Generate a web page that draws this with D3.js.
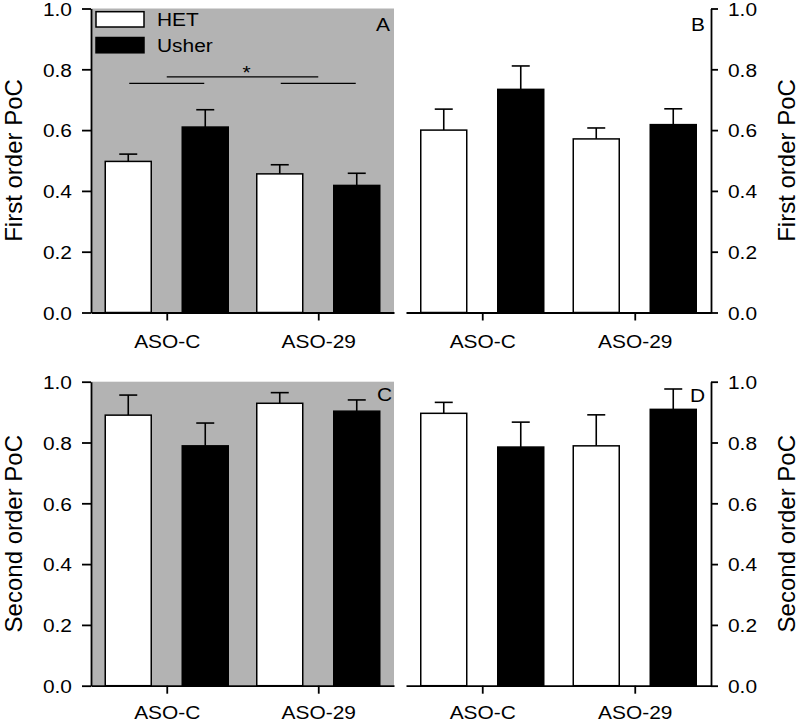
<!DOCTYPE html>
<html><head><meta charset="utf-8">
<script src="https://cdn.jsdelivr.net/npm/d3@7"></script>
<style>
body{margin:0;background:#fff;}
svg text{font-family:"Liberation Sans",Arial,sans-serif;fill:#000;}
</style></head>
<body><svg id="chart" width="800" height="723"></svg>
<script>
// ---- data ----
const categories = ["ASO-C", "ASO-29"];
const groups = ["HET", "Usher"];
const yTicks = [0, 0.2, 0.4, 0.6, 0.8, 1.0];

const hetA = [0.497, 0.456], hetAErr = [0.024, 0.030];
const usherA = [0.610, 0.418], usherAErr = [0.057, 0.040];
const hetB = [0.600, 0.571], hetBErr = [0.069, 0.036];
const usherB = [0.734, 0.618], usherBErr = [0.077, 0.052];
const hetC = [0.890, 0.929], hetCErr = [0.066, 0.035];
const usherC = [0.789, 0.903], usherCErr = [0.075, 0.037];
const hetD = [0.896, 0.789], hetDErr = [0.036, 0.102];
const usherD = [0.785, 0.909], usherDErr = [0.082, 0.067];

const sigLow = 0.754, sigHigh = 0.775, sigStar = "*";
const titles = ["First order PoC", "Second order PoC"];
const panelLetters = ["A", "B", "C", "D"];

// ---- layout ----
const svg = d3.select("#chart");
const SX = 1.1; // horizontal stretch of text in reference
const FS = 19, TFS = 24;

const panels = [
  {letter:"A", het:hetA, hetErr:hetAErr, us:usherA, usErr:usherAErr, x0:91, x1:394, y0:312.5, y1:8.5, side:"left", grey:true, title:titles[0], letterX:390, letterY:31, labY:35.5},
  {letter:"B", het:hetB, hetErr:hetBErr, us:usherB, usErr:usherBErr, x0:406, x1:711, y0:312.5, y1:8.5, side:"right", grey:false, title:titles[0], letterX:705, letterY:31, labY:35.5},
  {letter:"C", het:hetC, hetErr:hetCErr, us:usherC, usErr:usherCErr, x0:91, x1:394, y0:685.7, y1:381.7, side:"left", grey:true, title:titles[1], letterX:392, letterY:401, labY:33.5},
  {letter:"D", het:hetD, hetErr:hetDErr, us:usherD, usErr:usherDErr, x0:406, x1:711, y0:685.7, y1:381.7, side:"right", grey:false, title:titles[1], letterX:705, letterY:402, labY:33.5}
];

panels.forEach(p => {
  const g = svg.append("g");
  const x = d3.scalePoint().domain(categories).range([p.x0, p.x1]).padding(0.5);
  const y = d3.scaleLinear().domain([0, 1]).range([p.y0, p.y1]);
  const inner = d3.scaleBand().domain(groups).range([-61.5, 61.5]).paddingInner(0.4026).paddingOuter(0);

  if (p.grey) {
    g.append("rect").attr("x", p.x0).attr("y", y(1)).attr("width", p.x1 - p.x0).attr("height", y(0) - y(1)).attr("fill", "#b3b3b3");
  }

  // bars
  const rows = [];
  categories.forEach((c, i) => {
    rows.push({c, grp:"HET", v:p.het[i], e:p.hetErr[i]});
    rows.push({c, grp:"Usher", v:p.us[i], e:p.usErr[i]});
  });
  const bw = inner.bandwidth();
  rows.forEach(r => {
    const bx = x(r.c) + inner(r.grp);
    const cx = bx + bw / 2;
    g.append("line").attr("x1", cx).attr("x2", cx).attr("y1", y(r.v)).attr("y2", y(r.v + r.e)).attr("stroke", "#000").attr("stroke-width", 1.6);
    g.append("line").attr("x1", cx - 9).attr("x2", cx + 9).attr("y1", y(r.v + r.e)).attr("y2", y(r.v + r.e)).attr("stroke", "#000").attr("stroke-width", 1.6);
    g.append("rect").attr("x", bx).attr("y", y(r.v)).attr("width", bw).attr("height", y(0) - y(r.v))
      .attr("fill", r.grp === "HET" ? "#fff" : "#000").attr("stroke", "#000").attr("stroke-width", 1.5);
  });

  // x axis
  const xa = g.append("g").attr("transform", `translate(0,${p.y0})`)
    .call(d3.axisBottom(x).tickSize(8).tickSizeOuter(0));
  xa.select(".domain").attr("stroke-width", 1.8);
  xa.selectAll(".tick line").attr("stroke-width", 1.8);
  xa.selectAll(".tick text").attr("y", p.labY).attr("dy", 0).attr("font-size", FS)
    .attr("transform", `scale(${SX},1)`);

  // y axis
  let ya;
  if (p.side === "left") {
    ya = g.append("g").attr("transform", `translate(${p.x0},0)`)
      .call(d3.axisLeft(y).tickValues(yTicks).tickFormat(d3.format(".1f")).tickSize(9).tickSizeOuter(0));
    ya.selectAll(".tick text").attr("x", -19 / SX);
  } else {
    ya = g.append("g").attr("transform", `translate(${p.x1},0)`)
      .call(d3.axisRight(y).tickValues(yTicks).tickFormat(d3.format(".1f")).tickSize(7).tickSizeOuter(0));
    ya.selectAll(".tick text").attr("x", 17 / SX);
  }
  ya.select(".domain").attr("stroke-width", 1.8);
  ya.selectAll(".tick line").attr("stroke-width", 1.8);
  ya.selectAll(".tick text").attr("font-size", FS).attr("dy", "0.36em").attr("transform", `scale(${SX},1)`);

  // y title
  const tx = p.side === "left" ? 22 : 795;
  g.append("text").attr("transform", `translate(${tx},${(p.y0 + p.y1) / 2}) rotate(-90)`)
    .attr("text-anchor", "middle").attr("font-size", TFS).text(p.title);

  // panel letter
  g.append("text").attr("transform", `translate(${p.letterX},${p.letterY}) scale(${SX},1)`)
    .attr("text-anchor", "end").attr("font-size", FS).text(p.letter);

  // significance (panel A)
  if (p.letter === "A") {
    const cA = x(categories[0]), cB = x(categories[1]);
    [[cA - 37.5, cA + 37.5, sigLow], [cB - 37.5, cB + 37.5, sigLow], [cA, cB, sigHigh]].forEach(s => {
      g.append("line").attr("x1", s[0]).attr("x2", s[1]).attr("y1", y(s[2])).attr("y2", y(s[2])).attr("stroke", "#000").attr("stroke-width", 1.3);
    });
    g.append("text").attr("transform", `translate(${(cA + cB) / 2 + 4},${y(sigHigh) + 2}) scale(${SX},1)`)
      .attr("text-anchor", "middle").attr("font-size", 19).text(sigStar);

    // legend
    const leg = g.append("g");
    groups.forEach((grp, i) => {
      const ly = 11.7 + i * 25.8;
      leg.append("rect").attr("x", 96).attr("y", ly).attr("width", 48).attr("height", 15.3)
        .attr("fill", grp === "HET" ? "#fff" : "#000").attr("stroke", "#000").attr("stroke-width", 1.5);
      leg.append("text").attr("transform", `translate(157,${ly + 7.6}) scale(${SX},1)`)
        .attr("dy", "0.36em").attr("font-size", FS).text(grp);
    });
  }
});
</script></body></html>
